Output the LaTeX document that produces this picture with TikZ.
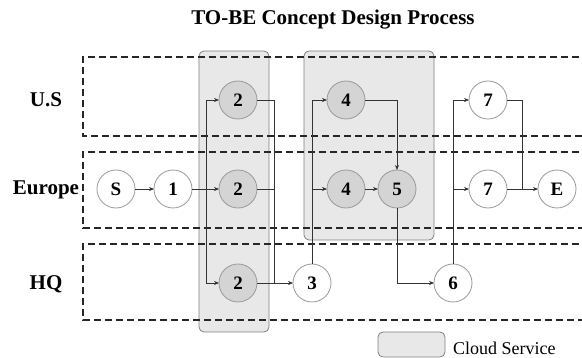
\documentclass[tikz,border=0pt]{standalone}
\usepackage{fontspec}
\setmainfont{Liberation Serif}
\usetikzlibrary{arrows.meta,positioning,calc}

\begin{document}
\begin{tikzpicture}[x=1pt,y=-1pt,inner sep=0,outer sep=0,
    task/.style={circle,draw=black!40,fill=white,line width=0.8pt,minimum size=38pt,font=\fontsize{19}{19}\selectfont\bfseries},
    cloudtask/.style={task,fill=black!17},
    cloud/.style={draw=black!50,fill=black!9,line width=0.8pt,rounded corners=5pt},
    lane/.style={draw=black!85,line width=1.3pt,dash pattern=on 7pt off 4pt},
    lanelabel/.style={anchor=base,font=\fontsize{21}{21}\selectfont\bfseries},
    link/.style={draw=black!80,line width=0.7pt},
    flow/.style={link,-{Stealth[length=5pt,width=4pt]}}]

   \useasboundingbox (0,0) rectangle (582,358);

   % Title
   \node[anchor=base,font=\fontsize{21}{21}\selectfont\bfseries] (title) at (333,25) {TO-BE Concept Design Process};

   % Cloud service areas
   \draw[cloud] (199,51) rectangle (269,332);
   \draw[cloud] (304,51) rectangle (434,240);

   % Lanes
   \draw[lane] (590,57) -| (83,136) -- (590,136);
   \draw[lane] (590,152) -| (83,228) -- (590,228);
   \draw[lane] (590,244) -| (83,320) -- (590,320);
   \node[lanelabel] (us) at (46,107) {U.S};
   \node[lanelabel] (europe) at (46,195) {Europe};
   \node[lanelabel] (hq) at (46,290) {HQ};

   % Tasks
   \node[task] (s) at (116,189) {S};
   \node[task] (n1) at (173,189) {1};
   \node[cloudtask] (n2us) at (238,100) {2};
   \node[cloudtask] (n2eu) at (238,189) {2};
   \node[cloudtask] (n2hq) at (238,283) {2};
   \node[task] (n3) at (312,283) {3};
   \node[cloudtask] (n4us) at (346,100) {4};
   \node[cloudtask] (n4eu) at (346,189) {4};
   \node[cloudtask] (n5) at (397,189) {5};
   \node[task] (n6) at (453,283) {6};
   \node[task] (n7us) at (488,100) {7};
   \node[task] (n7eu) at (488,189) {7};
   \node[task] (e) at (557,189) {E};

   % Flow
   \draw[flow] (s) -- (n1);
   \draw[flow] (n1) -- (n2eu);
   \coordinate (fork1) at (206,189);
   \draw[flow] (fork1) |- (n2us);
   \draw[flow] (fork1) |- (n2hq);
   \coordinate (join2) at (274,283);
   \draw[link] (n2us) -| (join2);
   \draw[link] (n2eu) -- (n2eu -| join2);
   \draw[flow] (n2hq) -- (n3);
   \draw[flow] (n3) |- (n4us);
   \draw[flow] (n3 |- n4eu) -- (n4eu);
   \draw[flow] (n4us) -| (n5);
   \draw[flow] (n4eu) -- (n5);
   \draw[flow] (n5) |- (n6);
   \draw[flow] (n6) |- (n7us);
   \draw[flow] (n6 |- n7eu) -- (n7eu);
   \coordinate (join7) at (522,189);
   \draw[link] (n7us) -| (join7);
   \draw[flow] (n7eu) -- (e);

   % Legend
   \draw[cloud] (378,332) rectangle (445,357);
   \node[anchor=base west,font=\fontsize{18}{18}\selectfont] (legend) at (453,355) {Cloud Service};

\end{tikzpicture}
\end{document}
